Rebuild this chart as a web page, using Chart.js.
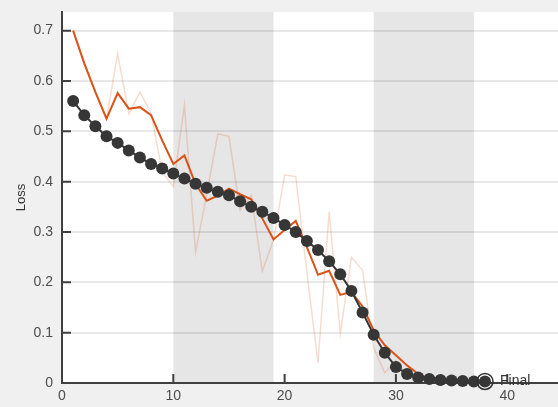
<!DOCTYPE html>
<html>
<head>
<meta charset="utf-8">
<script src="https://cdn.jsdelivr.net/npm/chart.js@4.4.0/dist/chart.umd.min.js"></script>
<style>
  body { margin: 0; background: #f0f0f0; }
  #wrap { width: 558px; height: 407px; }
</style>
</head>
<body>
<div id="wrap"><canvas id="lossChart" width="558" height="407"></canvas></div>
<script>
// training steps
var steps = [1, 2, 3, 4, 5, 6, 7, 8, 9, 10, 11, 12, 13, 14, 15, 16, 17, 18, 19, 20,
             21, 22, 23, 24, 25, 26, 27, 28, 29, 30, 31, 32, 33, 34, 35, 36, 37];
// raw loss (faint line)
var rawLoss = [0.700, 0.635, 0.578, 0.525, 0.654, 0.535, 0.578, 0.536, 0.420, 0.390,
               0.552, 0.260, 0.375, 0.495, 0.490, 0.343, 0.373, 0.222, 0.284, 0.413,
               0.410, 0.220, 0.040, 0.340, 0.098, 0.250, 0.224, 0.070, 0.020, 0.045,
               0.015, 0.005, 0.004, 0.003, 0.003, 0.002, 0.002];
// smoothed loss (orange line)
var smoothLoss = [0.700, 0.635, 0.578, 0.525, 0.576, 0.545, 0.548, 0.532, 0.482, 0.435,
                  0.452, 0.395, 0.362, 0.372, 0.386, 0.375, 0.365, 0.327, 0.285, 0.304,
                  0.322, 0.270, 0.215, 0.223, 0.175, 0.181, 0.152, 0.105, 0.075, 0.055,
                  0.035, 0.018, 0.008, 0.005, 0.004, 0.003, 0.003];
// validation loss (black dots)
var valLoss = [0.560, 0.532, 0.510, 0.490, 0.477, 0.462, 0.448, 0.435, 0.426, 0.416,
               0.406, 0.396, 0.388, 0.380, 0.373, 0.361, 0.350, 0.340, 0.328, 0.314,
               0.300, 0.282, 0.264, 0.242, 0.216, 0.183, 0.140, 0.096, 0.060, 0.032,
               0.018, 0.011, 0.008, 0.006, 0.005, 0.004, 0.003];
// final point
var finalStep = [38];
var finalLoss = [0.003];
var finalLabel = 'Final';
// shaded epochs
var bandStarts = [10, 28];
var bandEnds = [19, 37];
// ticks
var xTicks = [0, 10, 20, 30, 40];
var yTicks = [0, 0.1, 0.2, 0.3, 0.4, 0.5, 0.6, 0.7];

function toPoints(xs, ys) {
    return xs.map(function (x, i) { return { x: x, y: ys[i] }; });
}

// background, plot area and shaded bands
var backgroundPlugin = {
    id: 'backgroundPlugin',
    beforeDraw: function (chart) {
        var ctx = chart.ctx;
        var a = chart.chartArea;
        var xs = chart.scales.x;
        ctx.save();
        ctx.fillStyle = '#f0f0f0';
        ctx.fillRect(0, 0, chart.width, chart.height);
        ctx.fillStyle = '#ffffff';
        ctx.fillRect(a.left, a.top, a.right - a.left, a.bottom - a.top);
        ctx.fillStyle = '#e6e6e6';
        for (var i = 0; i < bandStarts.length; i++) {
            var x0 = xs.getPixelForValue(bandStarts[i]);
            var x1 = xs.getPixelForValue(bandEnds[i]);
            ctx.fillRect(x0, a.top, x1 - x0, a.bottom - a.top);
        }
        ctx.restore();
    }
};

// inward tick marks like the original axes
var innerTicksPlugin = {
    id: 'innerTicksPlugin',
    beforeDatasetsDraw: function (chart) {
        var ctx = chart.ctx;
        var a = chart.chartArea;
        ctx.save();
        ctx.strokeStyle = '#404040';
        ctx.lineWidth = 2;
        ctx.beginPath();
        yTicks.forEach(function (v) {
            var y = chart.scales.y.getPixelForValue(v);
            ctx.moveTo(a.left, y);
            ctx.lineTo(a.left + 9, y);
        });
        xTicks.forEach(function (v) {
            var x = chart.scales.x.getPixelForValue(v);
            ctx.moveTo(x, a.bottom);
            ctx.lineTo(x, a.bottom - 9);
        });
        ctx.stroke();
        ctx.restore();
    }
};

// "Final" text next to the last marker
var finalLabelPlugin = {
    id: 'finalLabelPlugin',
    afterDatasetsDraw: function (chart) {
        var ctx = chart.ctx;
        var x = chart.scales.x.getPixelForValue(finalStep[0]);
        var y = chart.scales.y.getPixelForValue(finalLoss[0]);
        ctx.save();
        ctx.font = '14px "Liberation Sans", Arial, sans-serif';
        ctx.fillStyle = '#333333';
        ctx.textAlign = 'left';
        ctx.textBaseline = 'middle';
        ctx.fillText(finalLabel, x + 15, y);
        ctx.restore();
    }
};

var ctx = document.getElementById('lossChart');
var chart = new Chart(ctx, {
    type: 'line',
    data: {
        datasets: [
            {
                label: 'Final ring',
                data: toPoints(finalStep, finalLoss),
                showLine: false,
                pointRadius: 8,
                pointBackgroundColor: 'rgba(0,0,0,0)',
                pointBorderColor: '#333333',
                pointBorderWidth: 1.5,
                clip: false,
                order: 0
            },
            {
                label: 'Final',
                data: toPoints(finalStep, finalLoss),
                showLine: false,
                pointRadius: 6,
                pointBackgroundColor: '#363636',
                pointBorderWidth: 0,
                clip: false,
                order: 0
            },
            {
                label: 'Validation',
                data: toPoints(steps, valLoss),
                borderColor: '#363636',
                borderWidth: 2,
                pointRadius: 6,
                pointBackgroundColor: '#363636',
                pointBorderWidth: 0,
                tension: 0,
                clip: false,
                order: 1
            },
            {
                label: 'Smoothed',
                data: toPoints(steps, smoothLoss),
                borderColor: '#D95319',
                borderWidth: 2,
                pointRadius: 0,
                tension: 0,
                order: 2
            },
            {
                label: 'Raw',
                data: toPoints(steps, rawLoss),
                borderColor: 'rgba(217, 83, 25, 0.2)',
                borderWidth: 1.5,
                pointRadius: 0,
                tension: 0,
                order: 3
            }
        ]
    },
    options: {
        responsive: false,
        animation: false,
        events: [],
        layout: { autoPadding: false, padding: { top: 12, right: 0, left: 0, bottom: 0 } },
        plugins: {
            legend: { display: false },
            tooltip: { enabled: false }
        },
        scales: {
            x: {
                type: 'linear',
                position: 'bottom',
                min: 0,
                max: 44.56,
                afterBuildTicks: function (scale) {
                    scale.ticks = xTicks.map(function (v) { return { value: v }; });
                },
                afterFit: function (scale) {
                    scale.height = 24;
                    scale.paddingLeft = 0;
                    scale.paddingRight = 0;
                },
                ticks: {
                    padding: 5,
                    color: '#4d4d4d',
                    font: { family: '"Liberation Sans", Arial, sans-serif', size: 14 },
                    maxRotation: 0
                },
                grid: { display: false, drawTicks: false },
                border: { color: '#404040', width: 2 }
            },
            y: {
                min: 0,
                max: 0.737,
                afterBuildTicks: function (scale) {
                    scale.ticks = yTicks.map(function (v) { return { value: v }; });
                },
                afterFit: function (scale) {
                    scale.width = 62;
                    scale.paddingTop = 0;
                    scale.paddingBottom = 0;
                },
                ticks: {
                    padding: 9,
                    color: '#4d4d4d',
                    font: { family: '"Liberation Sans", Arial, sans-serif', size: 14 }
                },
                grid: { color: 'rgba(0,0,0,0.09)', lineWidth: 2, drawTicks: false },
                border: { color: '#404040', width: 2 },
                title: {
                    display: true,
                    text: 'Loss',
                    color: '#333333',
                    padding: { top: 14, bottom: 0 },
                    font: { family: '"Liberation Sans", Arial, sans-serif', size: 13 }
                }
            }
        }
    },
    plugins: [backgroundPlugin, innerTicksPlugin, finalLabelPlugin]
});
</script>
</body>
</html>
